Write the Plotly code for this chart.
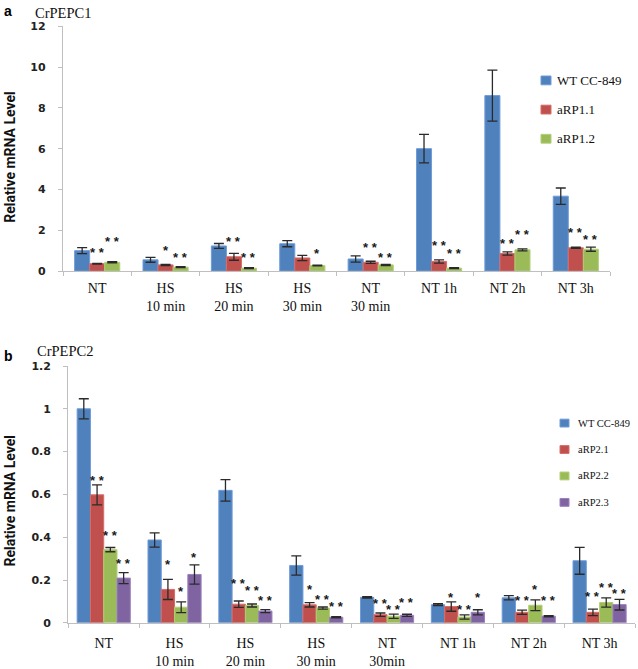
import plotly.graph_objects as go

# ---------------- data: panel a (CrPEPC1) ----------------
cats_a = ["NT", "HS<br>10 min", "HS<br>20 min", "HS<br>30 min", "NT<br>30 min", "NT 1h", "NT 2h", "NT 3h"]
series_a = ["WT CC-849", "aRP1.1", "aRP1.2"]
wt_a = [1.0, 0.55, 1.23, 1.34, 0.59, 6.0, 8.6, 3.67]
wt_a_err = [0.15, 0.12, 0.12, 0.15, 0.15, 0.7, 1.25, 0.4]
rp11_a = [0.36, 0.3, 0.7, 0.64, 0.43, 0.47, 0.86, 1.14]
rp11_a_err = [0.02, 0.03, 0.17, 0.13, 0.05, 0.08, 0.08, 0.03]
rp12_a = [0.43, 0.19, 0.14, 0.27, 0.3, 0.14, 1.04, 1.07]
rp12_a_err = [0.03, 0.02, 0.02, 0.02, 0.03, 0.02, 0.05, 0.1]
stars_rp11_a = ["**", "*", "**", "", "**", "**", "**", "**"]
stars_rp11_a_y = [1.07, 1.15, 1.6, 0, 1.31, 1.39, 1.52, 2.02]
stars_rp12_a = ["**", "**", "**", "*", "**", "**", "**", "**"]
stars_rp12_a_y = [1.58, 0.83, 0.8, 1.0, 0.8, 1.03, 1.92, 1.71]

# ---------------- data: panel b (CrPEPC2) ----------------
cats_b = ["NT", "HS<br>10 min", "HS<br>20 min", "HS<br>30 min", "NT<br>30min", "NT 1h", "NT 2h", "NT 3h"]
series_b = ["WT CC-849", "aRP2.1", "aRP2.2", "aRP2.3"]
wt_b = [1.0, 0.387, 0.619, 0.268, 0.119, 0.085, 0.117, 0.29]
wt_b_err = [0.047, 0.033, 0.05, 0.045, 0.003, 0.004, 0.01, 0.063]
rp21_b = [0.598, 0.156, 0.087, 0.084, 0.038, 0.076, 0.049, 0.049]
rp21_b_err = [0.047, 0.047, 0.015, 0.01, 0.008, 0.022, 0.01, 0.015]
rp22_b = [0.342, 0.073, 0.081, 0.069, 0.031, 0.027, 0.082, 0.095]
rp22_b_err = [0.01, 0.025, 0.007, 0.005, 0.01, 0.01, 0.025, 0.022]
rp23_b = [0.209, 0.226, 0.055, 0.026, 0.035, 0.049, 0.031, 0.085]
rp23_b_err = [0.026, 0.045, 0.007, 0.003, 0.005, 0.012, 0.003, 0.025]
stars_rp21_b = ["**", "*", "**", "*", "**", "*", "**", "**"]
stars_rp21_b_y = [0.679, 0.287, 0.198, 0.171, 0.104, 0.134, 0.119, 0.137]
stars_rp22_b = ["**", "*", "**", "**", "**", "**", "*", "**"]
stars_rp22_b_y = [0.422, 0.16, 0.165, 0.122, 0.076, 0.076, 0.168, 0.18]
stars_rp23_b = ["**", "*", "**", "**", "**", "*", "**", "**"]
stars_rp23_b_y = [0.29, 0.317, 0.117, 0.088, 0.107, 0.13, 0.119, 0.152]

colors = ["#4F81BD", "#C0504D", "#9BBB59", "#8064A2"]
edge = ["#6F9BD8", "#D76C69", "#B0CF74", "#9A80BC"]

W, H = 638, 669
def px(x): return x / W
def py(y): return 1 - y / H

fig = go.Figure()

def add_bars(cats, names, vals, errs, xa, ya, gap):
    n = len(names)
    w = (1 - gap) / n
    for i, (nm, v, e) in enumerate(zip(names, vals, errs)):
        fig.add_trace(go.Bar(
            x=cats, y=v, name=nm, xaxis=xa, yaxis=ya, showlegend=False,
            width=w, offset=-(1 - gap) / 2 + w * i,
            marker=dict(color=colors[i], line=dict(color=edge[i], width=1)),
            error_y=dict(type="data", array=e, visible=True, color="#2a2a2a",
                         thickness=1.3, width=5),
        ))

gap_a = 0.34
gap_b = 0.25
add_bars(cats_a, series_a, [wt_a, rp11_a, rp12_a], [wt_a_err, rp11_a_err, rp12_a_err],
         "x", "y", gap_a)
add_bars(cats_b, series_b, [wt_b, rp21_b, rp22_b, rp23_b],
         [wt_b_err, rp21_b_err, rp22_b_err, rp23_b_err], "x2", "y2", gap_b)

annotations = []
shapes = []

def add_stars(labels, ys, series_idx, nseries, gap, xref, yref):
    w = (1 - gap) / nseries
    for k, (t, yv) in enumerate(zip(labels, ys)):
        if not t:
            continue
        xpos = k - (1 - gap) / 2 + w * (series_idx + 0.5)
        annotations.append(dict(
            x=xpos, y=yv, xref=xref, yref=yref, text=" ".join(t), showarrow=False,
            font=dict(family="Liberation Sans", size=13, color="#1a1a1a", weight="bold"),
            yanchor="middle", xanchor="center", yshift=-3))

add_stars(stars_rp11_a, stars_rp11_a_y, 1, 3, gap_a, "x", "y")
add_stars(stars_rp12_a, stars_rp12_a_y, 2, 3, gap_a, "x", "y")
add_stars(stars_rp21_b, stars_rp21_b_y, 1, 4, gap_b, "x2", "y2")
add_stars(stars_rp22_b, stars_rp22_b_y, 2, 4, gap_b, "x2", "y2")
add_stars(stars_rp23_b, stars_rp23_b_y, 3, 4, gap_b, "x2", "y2")

# legends (drawn as swatches + labels)
def add_legend(names, x0, y0, step, sw, sh, tx, fsize):
    for i, nm in enumerate(names):
        yc = y0 + step * i
        shapes.append(dict(type="rect", xref="paper", yref="paper",
                           x0=px(x0), x1=px(x0 + sw), y0=py(yc + sh / 2), y1=py(yc - sh / 2),
                           fillcolor=colors[i], line=dict(color=edge[i], width=1)))
        annotations.append(dict(x=px(tx), y=py(yc), xref="paper", yref="paper", text=nm,
                                showarrow=False, xanchor="left", yanchor="middle",
                                font=dict(family="Liberation Serif", size=fsize, color="#111111")))

add_legend(series_a, 541, 76, 29.8, 10, 9, 555, 13)
add_legend(series_b, 560, 426, 27, 9, 8, 576, 10.5)

# panel labels, titles, axis titles
annotations += [
    dict(x=px(2), y=py(5), xref="paper", yref="paper", text="<b>a</b>", showarrow=False,
         xanchor="left", yanchor="middle", font=dict(family="Liberation Sans", size=14, color="black")),
    dict(x=px(33), y=py(7), xref="paper", yref="paper", text="CrPEPC1", showarrow=False,
         xanchor="left", yanchor="middle", font=dict(family="Liberation Serif", size=14.5, color="#111111")),
    dict(x=px(2), y=py(357), xref="paper", yref="paper", text="<b>b</b>", showarrow=False,
         xanchor="left", yanchor="middle", font=dict(family="Liberation Sans", size=14, color="black")),
    dict(x=px(35), y=py(352), xref="paper", yref="paper", text="CrPEPC2", showarrow=False,
         xanchor="left", yanchor="middle", font=dict(family="Liberation Serif", size=14.5, color="#111111")),
    dict(x=px(10), y=py(154), xref="paper", yref="paper", text="<b>Relative mRNA Level</b>",
         showarrow=False, textangle=-90, xanchor="center", yanchor="middle",
         font=dict(family="Roboto", size=14, color="#111111")),
    dict(x=px(10), y=py(505), xref="paper", yref="paper", text="<b>Relative mRNA Level</b>",
         showarrow=False, textangle=-90, xanchor="center", yanchor="middle",
         font=dict(family="Roboto", size=14, color="#111111")),
]

axis_common = dict(showline=True, linecolor="#BFBFBF", linewidth=1.3, showgrid=False,
                   zeroline=False, ticks="outside", tickcolor="#BFBFBF", ticklen=4)
xfont = dict(family="Liberation Serif", size=14, color="#111111")
yfont = dict(family="DejaVu Sans", size=11, color="#222222", weight="bold")

fig.update_layout(
    width=W, height=H, margin=dict(l=0, r=0, t=0, b=0),
    paper_bgcolor="white", plot_bgcolor="white",
    barmode="group", showlegend=False,
    xaxis=dict(domain=[px(63), px(610)], anchor="y", type="category", tickson="boundaries",
               tickfont=xfont, ticklabelstandoff=4, **axis_common),
    yaxis=dict(domain=[py(270.7), py(20.7)], anchor="x", range=[0, 12], dtick=2,
               tickfont=yfont, ticklabelstandoff=10, **axis_common),
    xaxis2=dict(domain=[px(68.3), px(635)], anchor="y2", type="category", tickson="boundaries",
                tickfont=xfont, ticklabelstandoff=7, **axis_common),
    yaxis2=dict(domain=[py(630), py(367.7)], anchor="x2", range=[0, 1.2], dtick=0.2,
                tickfont=yfont, ticklabelstandoff=10, **axis_common),
    annotations=annotations,
    shapes=shapes,
)

fig.write_html("out.html", config={"displayModeBar": False},
               post_script="document.body.style.margin='0';document.body.style.overflow='hidden';")
